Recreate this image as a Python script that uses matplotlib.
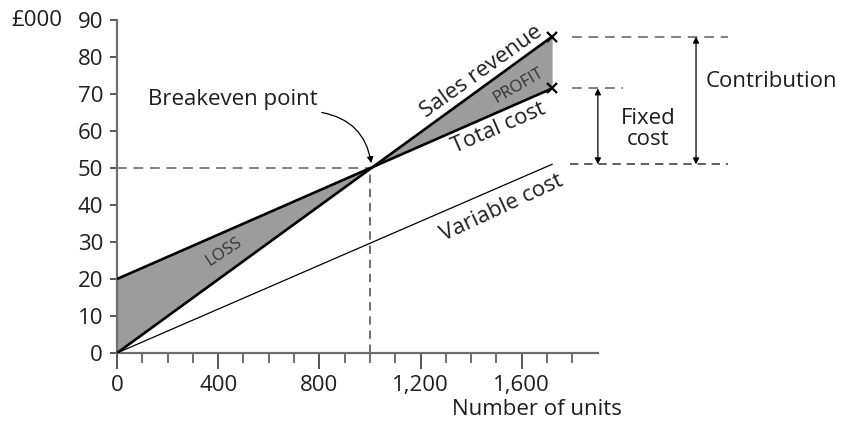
import matplotlib
matplotlib.use("Agg")
import matplotlib.pyplot as plt
import numpy as np

plt.rcParams['font.family'] = ['Open Sans', 'DejaVu Sans']

# ---- data ----
units = [0, 1720]
sales_revenue = [0, 85.5]
total_cost = [20, 71.5]
variable_cost = [0, 51]
breakeven_units = 1000
breakeven_value = 50
x_major = [0, 400, 800, 1200, 1600]
x_labels = ["0", "400", "800", "1,200", "1,600"]
x_minor = list(range(0, 1900, 100))
y_ticks = [0, 10, 20, 30, 40, 50, 60, 70, 80, 90]

fs = 16
tc_col = '#1e1e1e'
fig = plt.figure(figsize=(8.43, 4.25), dpi=100)
ax = fig.add_axes([117/843, (425-353)/425, 1-117/843, 333/425])
ax.set_xlim(0, 2870)
ax.set_ylim(0, 90)

for s in ['top', 'right']:
    ax.spines[s].set_visible(False)
for s in ['left', 'bottom']:
    ax.spines[s].set_color('#6e6e6e')
    ax.spines[s].set_linewidth(1.6)
ax.spines['bottom'].set_bounds(0, 1900)
ax.spines['left'].set_bounds(0, 90)

ax.set_xticks(x_major)
ax.set_xticklabels(x_labels)
ax.set_xticks(x_minor, minor=True)
ax.set_yticks(y_ticks)
ax.tick_params(axis='x', which='major', length=11.5, width=1.4, color='#555555', pad=4, labelsize=fs, labelcolor=tc_col)
ax.tick_params(axis='x', which='minor', length=7.5, width=1.2, color='#555555')
ax.tick_params(axis='y', which='major', length=5, width=1.4, color='#555555', pad=5, labelsize=fs, labelcolor=tc_col)

# shaded regions
ux = np.array(units, dtype=float)
sr = np.array(sales_revenue, dtype=float)
tc = np.array(total_cost, dtype=float)
ax.fill_between(ux, sr, tc, color='#9c9c9c', zorder=1, linewidth=0)

# lines
ax.plot(units, sales_revenue, color='black', lw=1.9, zorder=3, solid_capstyle='butt')
ax.plot(units, total_cost, color='black', lw=1.9, zorder=3, solid_capstyle='butt')
ax.plot(units, variable_cost, color='black', lw=0.9, zorder=3)
ax.plot([units[-1], units[-1]], [sales_revenue[-1], total_cost[-1]], 'x', color='black', ms=7, mew=1.6, zorder=4)

# dashed guides
dash = (0, (5, 3.5))
ax.plot([0, breakeven_units], [breakeven_value]*2, color='#808080', lw=1.4, ls=dash, zorder=2)
ax.plot([breakeven_units]*2, [0, breakeven_value], color='#555555', lw=1.2, ls=dash, zorder=2)
ax.plot([1800, 2415], [sales_revenue[-1]]*2, color='#808080', lw=1.4, ls=dash)
ax.plot([1800, 2000], [total_cost[-1]]*2, color='#808080', lw=1.4, ls=dash)
ax.plot([1790, 2415], [variable_cost[-1]]*2, color='#444444', lw=1.2, ls=dash)

# arrows
ap = dict(arrowstyle='<|-|>', color='black', lw=0.9, mutation_scale=9, shrinkA=0, shrinkB=0)
ax.annotate('', xy=(1901, total_cost[-1]), xytext=(1901, variable_cost[-1]), arrowprops=ap)
ax.annotate('', xy=(2289, sales_revenue[-1]), xytext=(2289, variable_cost[-1]), arrowprops=ap)

ax.text(2099, 60.5, 'Fixed\ncost', ha='center', va='center', fontsize=fs, color=tc_col, linespacing=1.0)
ax.text(2328, 73.5, 'Contribution', ha='left', va='center', fontsize=fs, color=tc_col)

# breakeven annotation
ax.text(123, 68.4, 'Breakeven point', ha='left', va='center', fontsize=fs, color=tc_col)
ax.annotate('', xy=(1005, 51.3), xytext=(810, 65),
            arrowprops=dict(arrowstyle='-|>', color='black', lw=0.9, mutation_scale=9,
                            connectionstyle='arc3,rad=-0.35', shrinkA=0, shrinkB=0))

# rotated labels
ax.text(1439, 75.9, 'Sales revenue', rotation=35.5, rotation_mode='anchor', ha='center', va='center', fontsize=fs, color=tc_col)
ax.text(1510, 60.8, 'Total cost', rotation=23.5, rotation_mode='anchor', ha='center', va='center', fontsize=fs, color=tc_col)
ax.text(1520, 39.2, 'Variable cost', rotation=25, rotation_mode='anchor', ha='center', va='center', fontsize=fs, color=tc_col)
ax.text(1585, 72.3, 'PROFIT', rotation=30, rotation_mode='anchor', ha='center', va='center', fontsize=12, color='#333333')
ax.text(423, 27.3, 'LOSS', rotation=33, rotation_mode='anchor', ha='center', va='center', fontsize=12, color='#333333')

ax.text(-215, 90, '£000', ha='right', va='center', fontsize=fs, color=tc_col, clip_on=False)
ax.text(1660, -15.4, 'Number of units', ha='center', va='center', fontsize=fs, color=tc_col, clip_on=False)

fig.savefig('out.png', dpi=100)
